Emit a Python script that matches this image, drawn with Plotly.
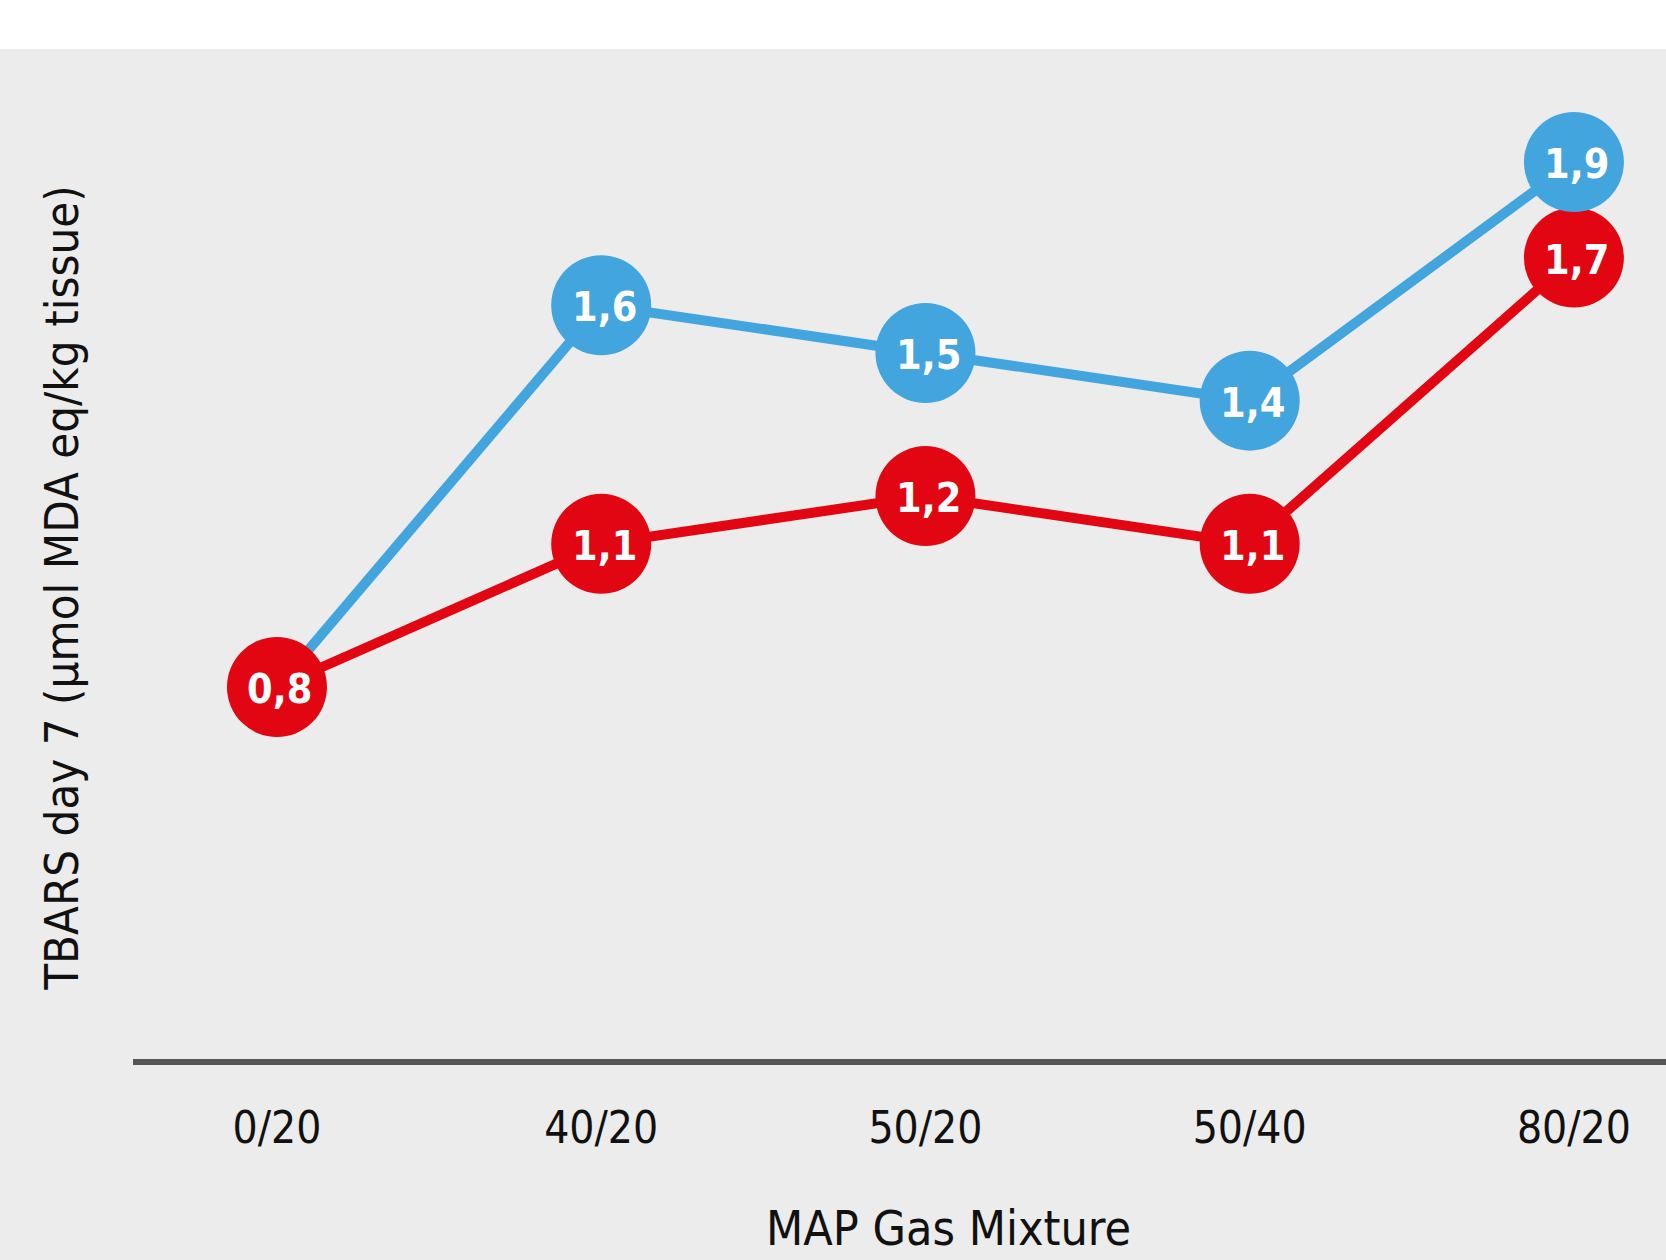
import plotly.graph_objects as go

# Gas mixtures (CO2/O2) and TBARS values on day 7
categories = ["0/20", "40/20", "50/20", "50/40", "80/20"]
blue_values = [0.8, 1.6, 1.5, 1.4, 1.9]
red_values = [0.8, 1.1, 1.2, 1.1, 1.7]

x_title = "MAP Gas Mixture"
y_title = "TBARS day 7 (µmol MDA eq/kg tissue)"

BLUE = "#42a5de"
RED = "#e20613"
BG = "#ececec"
FONT = "Liberation Sans Narrow, DejaVu Sans Condensed, Arial Narrow, sans-serif"


def fmt(v):
    return f"{v:.1f}".replace(".", ",")


fig = go.Figure()

# connecting lines
fig.add_trace(go.Scatter(x=categories, y=blue_values, mode="lines", cliponaxis=False,
                         line=dict(color=BLUE, width=10), hoverinfo="skip"))
fig.add_trace(go.Scatter(x=categories, y=red_values, mode="lines", cliponaxis=False,
                         line=dict(color=RED, width=10), hoverinfo="skip"))

# red value bubbles
fig.add_trace(go.Scatter(
    x=categories, y=red_values, mode="markers", cliponaxis=False,
    marker=dict(color=RED, size=100, line=dict(width=0)),
))

# blue value bubbles (the shared starting point is shown in red)
fig.add_trace(go.Scatter(
    x=categories[1:], y=blue_values[1:], mode="markers", cliponaxis=False,
    marker=dict(color=BLUE, size=100, line=dict(width=0)),
))

# value labels inside the bubbles
labels = []
for xs, ys in ((categories, red_values), (categories[1:], blue_values[1:])):
    for xv, yv in zip(xs, ys):
        labels.append(dict(
            x=xv, y=yv, xref="x", yref="y", text=fmt(yv), showarrow=False,
            xanchor="center", yanchor="middle", xshift=3, yshift=-2,
            font=dict(family=FONT, size=41, color="white", weight="bold"),
        ))

fig.update_layout(
    width=1666, height=1260,
    margin=dict(l=133, r=0, t=111, b=201),
    paper_bgcolor=BG, plot_bgcolor=BG,
    showlegend=False,
    xaxis=dict(
        type="category", range=[-0.444, 4.284],
        showgrid=False, zeroline=False,
        showline=True, linecolor="#555555", linewidth=6,
        ticks="", ticklabelstandoff=25,
        tickfont=dict(family=FONT, size=44, color="#111111"),
        fixedrange=True,
    ),
    yaxis=dict(
        range=[0.0205, 2.007], showgrid=False, zeroline=False,
        showline=False, showticklabels=False, fixedrange=True,
    ),
    shapes=[dict(type="rect", xref="paper", yref="paper",
                 x0=-0.1, x1=1.01, y0=1.0654, y1=1.25,
                 fillcolor="white", line=dict(width=0), layer="below")],
    annotations=labels + [
        dict(text=x_title, xref="paper", yref="paper", x=0.532, y=-0.178,
             xanchor="center", yanchor="middle", showarrow=False,
             font=dict(family=FONT, size=48, color="#111111", weight=500)),
        dict(text=y_title, xref="paper", yref="paper", x=-0.0463, y=0.497,
             xanchor="center", yanchor="middle", showarrow=False, textangle=-90,
             font=dict(family=FONT, size=47, color="#111111")),
    ],
)

fig.write_html("out.html")
